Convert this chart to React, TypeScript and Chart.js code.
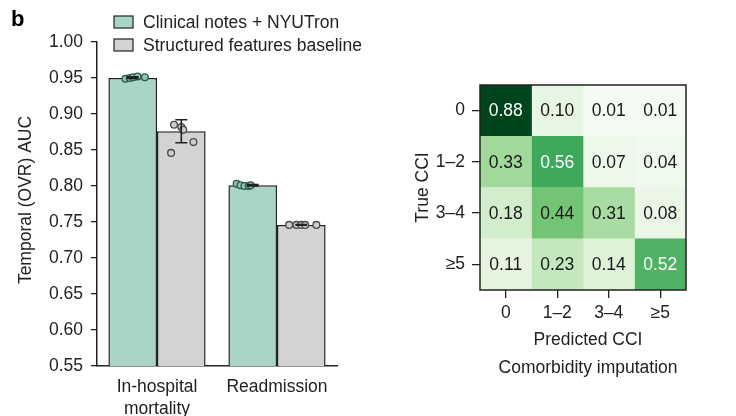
import React, { useEffect, useRef } from 'react';
import { Chart, registerables } from 'chart.js';
Chart.register(...registerables);

const FONT = "'Liberation Sans', Arial, Helvetica, sans-serif";
const FS = 17.5;
const INK = '#222222';

// ---------- bar chart data ----------
const tasks = [['In-hospital', 'mortality'], 'Readmission'];
const seriesNames = ['Clinical notes + NYUTron', 'Structured features baseline'];
const nyutronAUC = [0.95, 0.801];
const baselineAUC = [0.876, 0.746];
const nyutronErrLow = [0.9495, 0.8];
const nyutronErrHigh = [0.9515, 0.802];
const baselineErrLow = [0.86, 0.7455];
const baselineErrHigh = [0.892, 0.7465];
const nyutronRunsMortality = [0.949, 0.95, 0.951, 0.952, 0.951];
const nyutronRunsReadmission = [0.803, 0.801, 0.8, 0.8, 0.801];
const baselineRunsMortality = [0.846, 0.885, 0.882, 0.878, 0.861];
const baselineRunsReadmission = [0.746, 0.746, 0.746, 0.746, 0.746];
const yTicksMin = 0.55;
const yTicksMax = 1.0;
const yTickStep = 0.05;

// ---------- heatmap data ----------
const trueCCI = ['0', '1–2', '3–4', '≥5'];
const predictedCCI = ['0', '1–2', '3–4', '≥5'];
const confRow0 = [0.88, 0.1, 0.01, 0.01];
const confRow1 = [0.33, 0.56, 0.07, 0.04];
const confRow2 = [0.18, 0.44, 0.31, 0.08];
const confRow3 = [0.11, 0.23, 0.14, 0.52];

// ---------- styles ----------
const GREEN = '#a9d5c6';
const GRAY = '#d3d3d3';
const GREEN_PT = '#8fc6b2';
const GREEN_PT_EDGE = '#2d5a4c';
const GRAY_PT = '#cdcdcd';
const GRAY_PT_EDGE = '#4a4a4a';
// horizontal jitter of individual runs (fraction of bar width)
const JITTER = [
  [[-0.15, -0.06, 0.01, 0.1, 0.25], [-0.33, -0.25, -0.17, -0.08, -0.04]],
  [[-0.21, -0.15, 0.0, 0.04, 0.25], [-0.25, -0.1, 0.0, 0.08, 0.31]],
];

const GREENS = [
  [0.0, [247, 252, 245]],
  [0.125, [229, 245, 224]],
  [0.25, [199, 233, 192]],
  [0.375, [161, 217, 155]],
  [0.5, [116, 196, 118]],
  [0.625, [65, 171, 93]],
  [0.75, [35, 139, 69]],
  [0.875, [0, 109, 44]],
  [1.0, [0, 68, 27]],
];
function greens(t: number): string {
  t = Math.max(0, Math.min(1, t));
  for (let i = 1; i < GREENS.length; i++) {
    const [t1, c1] = GREENS[i] as [number, number[]];
    const [t0, c0] = GREENS[i - 1] as [number, number[]];
    if (t <= t1) {
      const f = (t - t0) / (t1 - t0);
      const c = c0.map((v, k) => Math.round(v + (c1[k] - v) * f));
      return `rgb(${c[0]},${c[1]},${c[2]})`;
    }
  }
  return 'rgb(0,68,27)';
}

function BarPanel() {
  const ref = useRef<HTMLCanvasElement | null>(null);
  useEffect(() => {
    if (!ref.current) return;
    const runs = [
      [nyutronRunsMortality, nyutronRunsReadmission],
      [baselineRunsMortality, baselineRunsReadmission],
    ];
    const errLow = [nyutronErrLow, baselineErrLow];
    const errHigh = [nyutronErrHigh, baselineErrHigh];
    const overlay = {
      id: 'overlay',
      afterDatasetsDraw(chart: any) {
        const ctx = chart.ctx;
        const yScale = chart.scales.y;
        ctx.save();
        for (let d = 0; d < 2; d++) {
          const meta = chart.getDatasetMeta(d);
          meta.data.forEach((bar: any, i: number) => {
            runs[d][i].forEach((v: number, k: number) => {
              const x = bar.x + JITTER[d][i][k] * bar.width;
              const y = yScale.getPixelForValue(v);
              ctx.beginPath();
              ctx.arc(x, y, 3.4, 0, Math.PI * 2);
              ctx.fillStyle = d === 0 ? GREEN_PT : GRAY_PT;
              ctx.fill();
              ctx.lineWidth = 1.3;
              ctx.strokeStyle = d === 0 ? GREEN_PT_EDGE : GRAY_PT_EDGE;
              ctx.stroke();
            });
            const y1 = yScale.getPixelForValue(errLow[d][i]);
            const y2 = yScale.getPixelForValue(errHigh[d][i]);
            ctx.strokeStyle = INK;
            ctx.lineWidth = 1.6;
            ctx.beginPath();
            ctx.moveTo(bar.x, y1);
            ctx.lineTo(bar.x, y2);
            ctx.moveTo(bar.x - 6, y1);
            ctx.lineTo(bar.x + 6, y1);
            ctx.moveTo(bar.x - 6, y2);
            ctx.lineTo(bar.x + 6, y2);
            ctx.stroke();
          });
        }
        ctx.restore();
      },
      afterDraw(chart: any) {
        const ctx = chart.ctx;
        ctx.save();
        // panel letter
        ctx.fillStyle = '#000';
        ctx.font = `bold 22px ${FONT}`;
        ctx.textBaseline = 'alphabetic';
        ctx.textAlign = 'left';
        ctx.fillText('b', 11, 26);
        // legend
        const cols = [GREEN, GRAY];
        const ys = [22, 45];
        ctx.font = `${FS}px ${FONT}`;
        ctx.textBaseline = 'middle';
        seriesNames.forEach((name, i) => {
          ctx.fillStyle = cols[i];
          ctx.fillRect(114, ys[i] - 6, 19, 12);
          ctx.strokeStyle = INK;
          ctx.lineWidth = 1.2;
          ctx.strokeRect(114, ys[i] - 6, 19, 12);
          ctx.fillStyle = INK;
          ctx.fillText(name, 143, ys[i] + 1);
        });
        // y title
        ctx.translate(26, 200);
        ctx.rotate(-Math.PI / 2);
        ctx.textAlign = 'center';
        ctx.fillText('Temporal (OVR) AUC', 0, 0);
        ctx.restore();
      },
    };
    const chart = new Chart(ref.current, {
      type: 'bar',
      data: {
        labels: tasks as any,
        datasets: [
          {
            label: seriesNames[0],
            data: nyutronAUC,
            backgroundColor: GREEN,
            borderColor: INK,
            borderWidth: 1.5,
            borderSkipped: false,
            categoryPercentage: 0.81,
            barPercentage: 1,
          },
          {
            label: seriesNames[1],
            data: baselineAUC,
            backgroundColor: GRAY,
            borderColor: INK,
            borderWidth: 1.5,
            borderSkipped: false,
            categoryPercentage: 0.81,
            barPercentage: 1,
          },
        ],
      },
      options: {
        animation: false,
        responsive: false,
        events: [],
        layout: { padding: { left: 0, top: 42, right: 43, bottom: 0 } },
        plugins: { legend: { display: false }, tooltip: { enabled: false } },
        scales: {
          x: {
            type: 'category',
            offset: true,
            grid: { display: true, drawOnChartArea: false, drawTicks: false },
            border: { display: true, color: INK, width: 1.5 },
            ticks: { color: INK, font: { family: FONT, size: FS, lineHeight: 1.25 }, padding: 10, maxRotation: 0 },
            afterFit: (s: any) => { s.height = 50; },
          },
          y: {
            min: yTicksMin,
            max: yTicksMax,
            ticks: {
              stepSize: yTickStep,
              color: INK,
              font: { family: FONT, size: FS },
              padding: 8,
              callback: (v: any) => Number(v).toFixed(2),
            },
            grid: { drawOnChartArea: false, tickLength: 6, color: INK, lineWidth: 1.3 },
            border: { display: true, color: INK, width: 1.5 },
            afterFit: (s: any) => { s.width = 97; },
          },
        },
      } as any,
      plugins: [overlay],
    });
    return () => chart.destroy();
  }, []);
  return <canvas ref={ref} width={380} height={416} style={{ position: 'absolute', left: 0, top: 0 }} />;
}

function HeatPanel() {
  const ref = useRef<HTMLCanvasElement | null>(null);
  useEffect(() => {
    if (!ref.current) return;
    const matrix = [confRow0, confRow1, confRow2, confRow3];
    const vmax = Math.max(...matrix.flat());
    const datasets = predictedCCI.map((p, j) => ({
      label: p,
      data: trueCCI.map(() => [j, j + 1]),
      backgroundColor: matrix.map((r) => greens(r[j] / vmax)),
      borderWidth: 0,
      barPercentage: 1,
      categoryPercentage: 1,
      grouped: false,
    }));
    const overlay = {
      id: 'heatOverlay',
      afterDatasetsDraw(chart: any) {
        const ctx = chart.ctx;
        ctx.save();
        ctx.font = `${FS}px ${FONT}`;
        ctx.textAlign = 'center';
        ctx.textBaseline = 'middle';
        for (let j = 0; j < predictedCCI.length; j++) {
          const meta = chart.getDatasetMeta(j);
          meta.data.forEach((bar: any, i: number) => {
            const v = matrix[i][j];
            ctx.fillStyle = v / vmax > 0.55 ? '#ffffff' : '#1a1a1a';
            ctx.fillText(v.toFixed(2), (bar.x + bar.base) / 2, bar.y + 1);
          });
        }
        const a = chart.chartArea;
        ctx.strokeStyle = INK;
        ctx.lineWidth = 1.5;
        ctx.strokeRect(a.left, a.top, a.right - a.left, a.bottom - a.top);
        ctx.restore();
      },
      afterDraw(chart: any) {
        const ctx = chart.ctx;
        const a = chart.chartArea;
        const cx = (a.left + a.right) / 2 + 5;
        ctx.save();
        ctx.fillStyle = INK;
        ctx.font = `${FS}px ${FONT}`;
        ctx.textAlign = 'center';
        ctx.textBaseline = 'middle';
        ctx.fillText('Predicted CCI', cx, 340);
        ctx.fillText('Comorbidity imputation', cx, 368);
        ctx.translate(43, (a.top + a.bottom) / 2);
        ctx.rotate(-Math.PI / 2);
        ctx.fillText('True CCI', 0, 0);
        ctx.restore();
      },
    };
    const chart = new Chart(ref.current, {
      type: 'bar',
      data: { labels: trueCCI, datasets: datasets as any },
      options: {
        indexAxis: 'y',
        animation: false,
        responsive: false,
        events: [],
        layout: { padding: { left: 0, top: 85, right: 50, bottom: 0 } },
        plugins: { legend: { display: false }, tooltip: { enabled: false } },
        scales: {
          x: {
            type: 'linear',
            min: 0,
            max: predictedCCI.length,
            afterBuildTicks: (s: any) => {
              s.ticks = predictedCCI.map((_, i) => ({ value: i + 0.5 }));
            },
            ticks: {
              color: INK,
              font: { family: FONT, size: FS },
              padding: 5,
              maxRotation: 0,
              autoSkip: false,
              callback: (_v: any, i: number) => predictedCCI[i],
            },
            grid: { display: true, drawOnChartArea: false, tickLength: 8, color: INK, lineWidth: 1.3 },
            border: { display: false },
            afterFit: (s: any) => { s.height = 126; },
          },
          y: {
            type: 'category',
            offset: true,
            ticks: { color: INK, font: { family: FONT, size: FS }, padding: 7 },
            grid: { display: true, offset: false, drawOnChartArea: false, tickLength: 8, color: INK, lineWidth: 1.3 },
            border: { display: false },
            afterFit: (s: any) => { s.width = 100; },
          },
        },
      } as any,
      plugins: [overlay],
    });
    return () => chart.destroy();
  }, []);
  return <canvas ref={ref} width={356} height={416} style={{ position: 'absolute', left: 380, top: 0 }} />;
}

export default function App() {
  return (
    <div style={{ position: 'absolute', left: 0, top: 0, width: 736, height: 416, background: '#ffffff', overflow: 'hidden' }}>
      <BarPanel />
      <HeatPanel />
    </div>
  );
}
